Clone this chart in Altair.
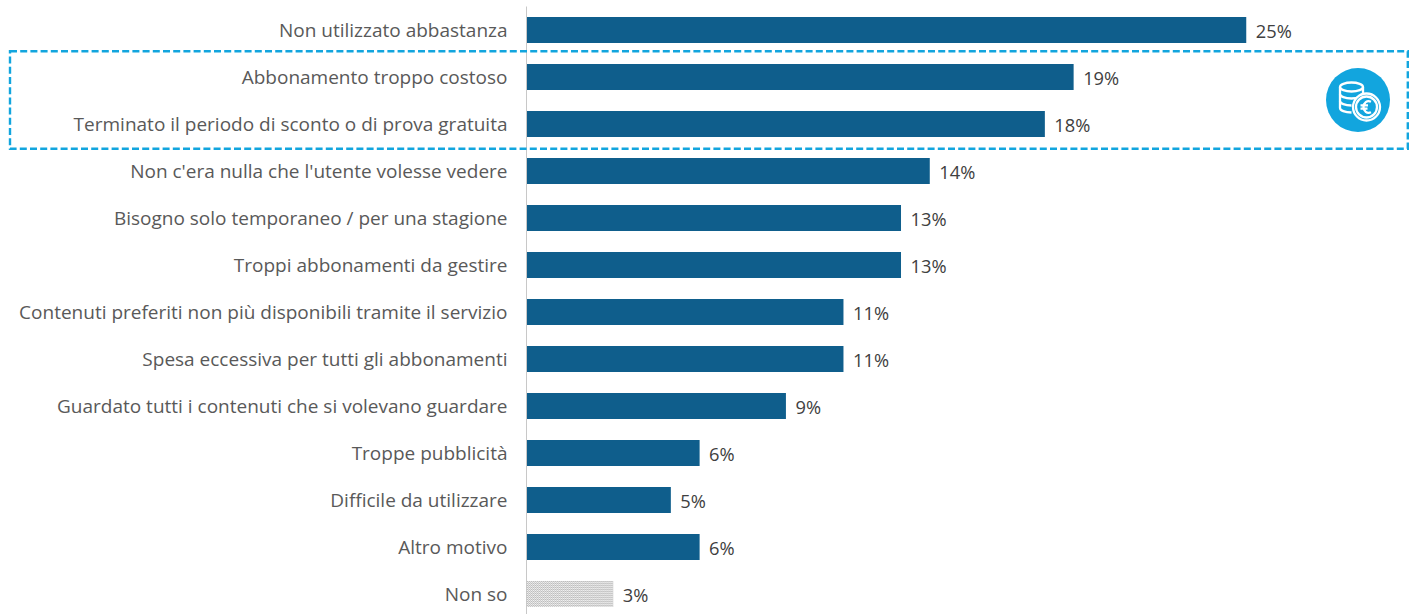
import base64
import altair as alt
import pandas as pd

categories = [
    "Non utilizzato abbastanza",
    "Abbonamento troppo costoso",
    "Terminato il periodo di sconto o di prova gratuita",
    "Non c'era nulla che l'utente volesse vedere",
    "Bisogno solo temporaneo / per una stagione",
    "Troppi abbonamenti da gestire",
    "Contenuti preferiti non più disponibili tramite il servizio",
    "Spesa eccessiva per tutti gli abbonamenti",
    "Guardato tutti i contenuti che si volevano guardare",
    "Troppe pubblicità",
    "Difficile da utilizzare",
    "Altro motivo",
    "Non so",
]
values = [25, 19, 18, 14, 13, 13, 11, 11, 9, 6, 5, 6, 3]


def svg_uri(svg):
    return "data:image/svg+xml;base64," + base64.b64encode(svg.encode()).decode()


# fine dotted fill for the "don't know" bar
DOTS = svg_uri(
    '<svg xmlns="http://www.w3.org/2000/svg" width="86" height="26" shape-rendering="crispEdges">'
    '<defs><pattern id="p" width="2" height="2" patternUnits="userSpaceOnUse">'
    '<rect width="2" height="2" fill="#efefef"/>'
    '<rect width="1" height="1" fill="#bdbdbd"/><rect x="1" y="1" width="1" height="1" fill="#bdbdbd"/>'
    '</pattern></defs><rect width="86" height="26" fill="url(#p)"/></svg>'
)

# stacked coins with a euro badge, on a filled disc
COINS = svg_uri(
    '<svg xmlns="http://www.w3.org/2000/svg" width="64" height="64" viewBox="0 0 64 64">'
    '<circle cx="32" cy="32" r="32" fill="#12a5de"/>'
    '<g fill="none" stroke="#fff" stroke-width="2.3">'
    '<ellipse cx="25.500" cy="19" rx="11.500" ry="4.500"/>'
    '<path d="M14 19V40c0 2.500 5 4.500 11.500 4.500"/>'
    '<path d="M37 19V26"/>'
    '<path d="M14 26c0 2.500 5 4.500 11.500 4.500c3 0 5.500-.4 7.500-1.100"/>'
    '<path d="M14 33c0 2.500 5 4.500 11.500 4.500"/>'
    '<circle cx="40.500" cy="39" r="13.500" fill="#12a5de"/>'
    '<circle cx="40.500" cy="39" r="10.500"/>'
    '<path d="M45 33.800c-4-1.800-7.500 1-7.500 5.200s3.500 7 7.500 5.200M34.500 37.300h7.500M34.500 40.700h7"/>'
    '</g></svg>'
)

df = pd.DataFrame({
    "motivo": categories,
    "valore": values,
    "etichetta": [f"{v}%" for v in values],
    "colore": ["#0f5e8c"] * 12 + ["#d6d6d6"],
})

x_scale = alt.Scale(domain=[0, 884.5 / 28.77], range=[0, 884.5], nice=False, zero=True)
y_scale = alt.Scale(domain=categories, paddingInner=21 / 47, paddingOuter=9 / 47, align=0.611)
x = alt.X("valore:Q", scale=x_scale, axis=None)
y = alt.Y(
    "motivo:N",
    scale=y_scale,
    sort=categories,
    title=None,
    axis=alt.Axis(
        ticks=False,
        domain=True,
        domainColor="#c8c8c8",
        domainWidth=1,
        offset=1,
        labelFont="Open Sans",
        labelFontSize=19,
        labelColor="#595959",
        labelPadding=19,
        labelLimit=600,
        labelOffset=1.5,
    ),
)

bars = alt.Chart(df).mark_bar(cornerRadius=0).encode(
    x=x, x2=alt.datum(0), y=y, color=alt.Color("colore:N", scale=None)
)

dotted = alt.Chart(df[df["motivo"] == "Non so"].assign(url=DOTS)).mark_image(aspect=False).encode(
    x=x, x2=alt.datum(0), y=y, url="url:N"
)

labels = alt.Chart(df).mark_text(
    align="left", baseline="middle", dx=9.5, dy=3,
    font="Open Sans", fontSize=18.3, color="#404040",
).encode(x=x, y=y, text="etichetta:N")

# dashed frame around the two cost-related reasons
frame = alt.Chart(pd.DataFrame({"a": [0]})).mark_rect(
    fill=None, stroke="#12a5de", strokeWidth=2.4, strokeDash=[7, 3.2], clip=False
).encode(
    x=alt.value(-517), x2=alt.value(880.8), y=alt.value(45.2), y2=alt.value(142.8)
)

icon = alt.Chart(pd.DataFrame({"url": [COINS]})).mark_image(width=64, height=64).encode(
    x=alt.value(831), y=alt.value(94), url="url:N"
)

chart = alt.layer(bars, dotted, labels, frame, icon).properties(
    width=884,
    height=608,
    padding={"left": 527, "top": 6, "right": 0, "bottom": 0},
    autosize=alt.AutoSizeParams(type="none"),
).configure_view(stroke=None)

chart.save("out.html", embed_options={"renderer": "svg", "actions": False})
